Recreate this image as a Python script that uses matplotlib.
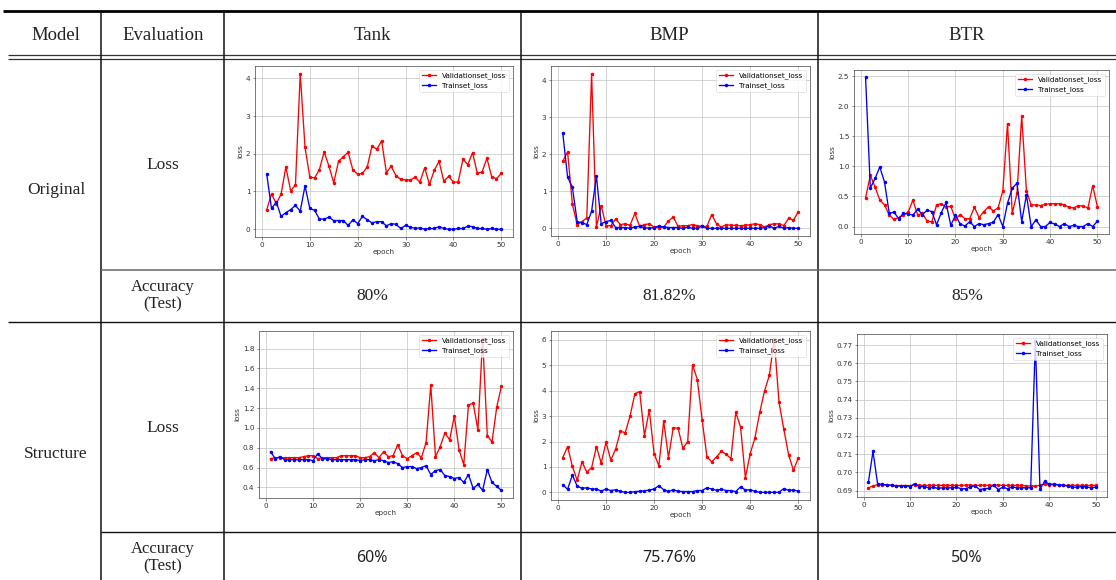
import matplotlib
matplotlib.use("Agg")
import matplotlib.pyplot as plt
from matplotlib.lines import Line2D

W, H = 1116, 580

# ---- data ----
epochs = list(range(1, 51))

tank_orig_val = [0.52, 0.93, 0.68, 0.93, 1.65, 1.02, 1.17, 4.12, 2.17, 1.38,
                 1.36, 1.58, 2.05, 1.67, 1.23, 1.80, 1.92, 2.04, 1.57, 1.46,
                 1.48, 1.65, 2.21, 2.12, 2.34, 1.50, 1.67, 1.42, 1.32, 1.31,
                 1.30, 1.38, 1.25, 1.63, 1.19, 1.56, 1.80, 1.27, 1.40, 1.25,
                 1.25, 1.86, 1.71, 2.03, 1.48, 1.52, 1.88, 1.39, 1.34, 1.48]
tank_orig_train = [1.46, 0.55, 0.72, 0.34, 0.44, 0.52, 0.63, 0.48, 1.15, 0.55,
                   0.50, 0.27, 0.27, 0.32, 0.23, 0.23, 0.23, 0.10, 0.25, 0.15,
                   0.34, 0.25, 0.17, 0.20, 0.20, 0.09, 0.15, 0.13, 0.02, 0.10,
                   0.06, 0.02, 0.04, 0.00, 0.02, 0.02, 0.07, 0.02, 0.00, 0.00,
                   0.02, 0.02, 0.08, 0.07, 0.02, 0.02, 0.00, 0.02, 0.00, 0.00]

bmp_orig_val = [1.81, 2.06, 0.65, 0.10, 0.18, 0.28, 4.17, 0.03, 0.61, 0.07,
                0.07, 0.25, 0.10, 0.12, 0.08, 0.40, 0.05, 0.10, 0.12, 0.03,
                0.02, 0.03, 0.20, 0.30, 0.05, 0.07, 0.07, 0.10, 0.07, 0.05,
                0.05, 0.37, 0.12, 0.03, 0.10, 0.08, 0.08, 0.07, 0.08, 0.10,
                0.12, 0.10, 0.03, 0.10, 0.12, 0.12, 0.07, 0.27, 0.22, 0.44]
bmp_orig_train = [2.57, 1.38, 1.11, 0.18, 0.15, 0.10, 0.46, 1.41, 0.12, 0.18,
                  0.21, 0.02, 0.02, 0.02, 0.00, 0.04, 0.05, 0.02, 0.00, 0.02,
                  0.06, 0.04, 0.02, 0.02, 0.02, 0.00, 0.03, 0.00, 0.00, 0.06,
                  0.00, 0.00, 0.00, 0.00, 0.00, 0.00, 0.00, 0.00, 0.00, 0.00,
                  0.00, 0.00, 0.02, 0.06, 0.00, 0.05, 0.00, 0.02, 0.00, 0.00]

btr_orig_val = [0.48, 0.85, 0.66, 0.44, 0.36, 0.19, 0.12, 0.15, 0.19, 0.24,
                0.44, 0.19, 0.22, 0.09, 0.08, 0.36, 0.38, 0.32, 0.34, 0.12,
                0.20, 0.13, 0.13, 0.32, 0.15, 0.25, 0.33, 0.26, 0.31, 0.59,
                1.71, 0.22, 0.55, 1.84, 0.59, 0.36, 0.36, 0.35, 0.37, 0.38,
                0.38, 0.38, 0.36, 0.32, 0.31, 0.35, 0.34, 0.31, 0.68, 0.33]
btr_orig_train = [2.48, 0.64, 0.80, 0.99, 0.74, 0.22, 0.24, 0.13, 0.22, 0.21,
                  0.19, 0.29, 0.20, 0.27, 0.25, 0.03, 0.23, 0.40, 0.02, 0.19,
                  0.04, 0.01, 0.08, 0.00, 0.05, 0.03, 0.05, 0.07, 0.20, 0.00,
                  0.39, 0.64, 0.72, 0.08, 0.53, 0.00, 0.11, 0.00, 0.00, 0.07,
                  0.04, 0.00, 0.05, 0.00, 0.02, 0.00, 0.00, 0.05, 0.00, 0.09]

tank_struct_val = [0.69, 0.70, 0.70, 0.70, 0.70, 0.70, 0.70, 0.71, 0.72, 0.72,
                   0.69, 0.70, 0.70, 0.70, 0.70, 0.72, 0.72, 0.72, 0.72, 0.70,
                   0.70, 0.71, 0.75, 0.70, 0.76, 0.71, 0.72, 0.83, 0.72, 0.69,
                   0.72, 0.75, 0.70, 0.85, 1.43, 0.71, 0.81, 0.95, 0.88, 1.12,
                   0.78, 0.63, 1.23, 1.25, 0.98, 1.90, 0.92, 0.86, 1.21, 1.42]
tank_struct_train = [0.76, 0.69, 0.71, 0.68, 0.68, 0.68, 0.68, 0.68, 0.68, 0.67,
                     0.74, 0.69, 0.69, 0.68, 0.68, 0.68, 0.68, 0.68, 0.68, 0.67,
                     0.68, 0.68, 0.67, 0.68, 0.67, 0.65, 0.66, 0.64, 0.60, 0.61,
                     0.61, 0.59, 0.60, 0.62, 0.53, 0.57, 0.58, 0.52, 0.51, 0.49,
                     0.50, 0.45, 0.53, 0.39, 0.43, 0.37, 0.58, 0.45, 0.41, 0.37]

bmp_struct_val = [1.37, 1.80, 1.02, 0.47, 1.20, 0.80, 0.97, 1.80, 1.15, 1.97,
                  1.27, 1.70, 2.40, 2.35, 3.00, 3.88, 3.97, 2.23, 3.24, 1.52,
                  1.05, 2.80, 1.37, 2.55, 2.52, 1.73, 2.00, 5.03, 4.44, 2.85,
                  1.40, 1.20, 1.40, 1.61, 1.50, 1.33, 3.15, 2.57, 0.57, 1.52,
                  2.15, 3.15, 4.00, 4.61, 6.05, 3.55, 2.48, 1.48, 0.87, 1.34]
bmp_struct_train = [0.30, 0.12, 0.68, 0.24, 0.16, 0.18, 0.13, 0.13, 0.05, 0.13,
                    0.07, 0.10, 0.04, 0.00, 0.00, 0.03, 0.04, 0.06, 0.09, 0.13,
                    0.26, 0.10, 0.04, 0.10, 0.04, 0.03, 0.03, 0.03, 0.07, 0.07,
                    0.18, 0.13, 0.08, 0.12, 0.07, 0.07, 0.03, 0.22, 0.09, 0.10,
                    0.04, 0.00, 0.00, 0.00, 0.00, 0.00, 0.15, 0.08, 0.09, 0.05]

btr_struct_val = [0.6915, 0.6925, 0.6932, 0.6930, 0.6930, 0.6928, 0.6927, 0.6927, 0.6927, 0.6927,
                  0.6930, 0.6928, 0.6928, 0.6928, 0.6928, 0.6928, 0.6928, 0.6928, 0.6928, 0.6928,
                  0.6928, 0.6930, 0.6930, 0.6928, 0.6928, 0.6930, 0.6928, 0.6930, 0.6930, 0.6928,
                  0.6928, 0.6928, 0.6928, 0.6928, 0.6926, 0.6925, 0.6925, 0.6928, 0.6935, 0.6932,
                  0.6932, 0.6930, 0.6928, 0.6928, 0.6928, 0.6928, 0.6928, 0.6928, 0.6928, 0.6928]
btr_struct_train = [0.6945, 0.7115, 0.6935, 0.6935, 0.6930, 0.6930, 0.6925, 0.6925, 0.6927, 0.6922,
                    0.6938, 0.6920, 0.6922, 0.6915, 0.6918, 0.6912, 0.6915, 0.6915, 0.6915, 0.6918,
                    0.6910, 0.6910, 0.6920, 0.6925, 0.6905, 0.6910, 0.6912, 0.6930, 0.6905, 0.6918,
                    0.6910, 0.6920, 0.6915, 0.6915, 0.6915, 0.6915, 0.7720, 0.6908, 0.6950, 0.6935,
                    0.6935, 0.6932, 0.6928, 0.6925, 0.6918, 0.6918, 0.6922, 0.6920, 0.6915, 0.6918]

model_names = ["Original", "Structure"]
class_names = ["Tank", "BMP", "BTR"]
header_labels = ["Model", "Evaluation"]
orig_accuracy = ["80%", "81.82%", "85%"]
struct_accuracy = ["60%", "75.76%", "50%"]

# axes rectangles in pixels: left, top, right, bottom
plot_boxes = [
    (255, 66, 513, 237), (551, 66, 810, 236), (854, 70, 1109, 234),
    (259, 331, 513, 498), (551, 331, 810, 500), (857, 334, 1107, 497),
]
plot_data = [
    (tank_orig_val, tank_orig_train), (bmp_orig_val, bmp_orig_train),
    (btr_orig_val, btr_orig_train), (tank_struct_val, tank_struct_train),
    (bmp_struct_val, bmp_struct_train), (btr_struct_val, btr_struct_train),
]

fig = plt.figure(figsize=(W / 100, H / 100), dpi=100)
fig.patch.set_facecolor("white")


def fx(x):
    return x / W


def fy(y):
    return 1 - y / H


def hline(y, x0, x1, lw=1.0, color="black"):
    fig.add_artist(Line2D([fx(x0), fx(x1)], [fy(y), fy(y)], transform=fig.transFigure,
                          lw=lw, color=color, solid_capstyle="butt"))


def vline(x, y0, y1, lw=1.0, color="black"):
    fig.add_artist(Line2D([fx(x), fx(x)], [fy(y0), fy(y1)], transform=fig.transFigure,
                          lw=lw, color=color, solid_capstyle="butt"))


# --- table grid ---
hline(11, 3, W, lw=2.0)
hline(55, 8, W, lw=0.9, color="#333333")
hline(58.5, 8, W, lw=0.9, color="#333333")
for x in [101, 224, 521, 818]:
    vline(x, 12, H, lw=1.1, color="#111111")
hline(270, 101, W, lw=1.1, color="#666666")
hline(322, 8, W, lw=1.0, color="#111111")
hline(532, 101, W, lw=1.0, color="#111111")

serif = "Liberation Serif"
txt_color = "#222222"
head_kw = dict(ha="center", va="center", fontsize=13.5, family=serif, color=txt_color,
               fontstretch="condensed")
fig.text(fx(56), fy(35), header_labels[0], **head_kw)
fig.text(fx(163), fy(35), header_labels[1], **head_kw)
for cx, name in zip([372, 669, 967], class_names):
    fig.text(fx(cx), fy(35), name, **head_kw)

fig.text(fx(56), fy(190), model_names[0], ha="center", va="center", fontsize=12.5,
         family=serif, color=txt_color)
fig.text(fx(56), fy(454), model_names[1], ha="center", va="center", fontsize=12.5,
         family=serif, color=txt_color)
for y in [165, 428]:
    fig.text(fx(163), fy(y), "Loss", ha="center", va="center", fontsize=12.5,
             family=serif, color=txt_color)
for y in [296, 558]:
    fig.text(fx(163), fy(y), "Accuracy\n(Test)", ha="center", va="center", fontsize=12,
             family=serif, color=txt_color, linespacing=1.1)
for cx, acc in zip([372, 669, 967], orig_accuracy):
    fig.text(fx(cx), fy(296), acc, ha="center", va="center", fontsize=12.5,
             family=serif, color=txt_color)
for cx, acc in zip([372, 669, 967], struct_accuracy):
    fig.text(fx(cx), fy(558), acc, ha="center", va="center", fontsize=11.5,
             family="Noto Sans", color=txt_color)

# --- loss plots ---
for (l, t, r, b), (val, train) in zip(plot_boxes, plot_data):
    ax = fig.add_axes([fx(l), fy(b), (r - l) / W, (b - t) / H])
    ax.plot(epochs, val, color="red", marker=".", markersize=3, lw=0.95,
            label="Validationset_loss")
    ax.plot(epochs, train, color="blue", marker=".", markersize=3, lw=0.95,
            label="Trainset_loss")
    ax.grid(True, color="#c8c8c8", lw=0.55)
    ax.set_axisbelow(True)
    ax.tick_params(labelsize=5.2, length=1.8, width=0.4, pad=1.5, colors="#333333")
    for sp in ax.spines.values():
        sp.set_linewidth(0.5)
        sp.set_color("#444444")
    ax.set_xlabel("epoch", fontsize=5.2, labelpad=1, color="#333333")
    ax.set_ylabel("loss", fontsize=5.2, labelpad=1.5, color="#333333")
    ax.set_xticks([0, 10, 20, 30, 40, 50])
    leg = ax.legend(loc="upper right", fontsize=5.2, handlelength=2.0,
                    borderpad=0.4, labelspacing=0.4, framealpha=0.8)
    leg.get_frame().set_linewidth(0.4)

fig.savefig("out.png", dpi=100)
